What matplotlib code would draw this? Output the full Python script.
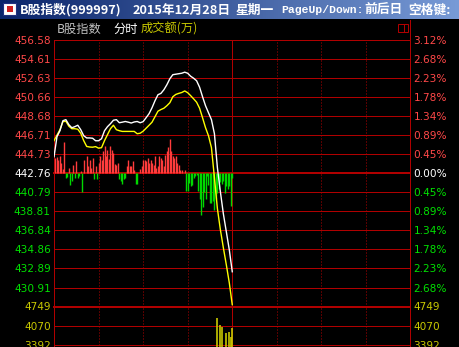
import numpy as np
import matplotlib
matplotlib.use("Agg")
import matplotlib.pyplot as plt
from matplotlib.patches import Rectangle

W, H = 460, 347

# 昨收 / 刻度
base = 442.76
price_labels = ["456.58", "454.61", "452.63", "450.66", "448.68", "446.71", "444.73",
                "442.76", "440.79", "438.81", "436.84", "434.86", "432.89", "430.91"]
pct_labels = ["3.12%", "2.68%", "2.23%", "1.78%", "1.34%", "0.89%", "0.45%",
              "0.00%", "0.45%", "0.89%", "1.34%", "1.78%", "2.23%", "2.68%"]
vol_labels = ["4749", "4070", "3392"]
vol_top = 4749

# 分时数据 (每2分钟读一次, 上午 0..120 分钟)
t_line = np.arange(0, 121, 2)
white_line = [444.49, 446.57, 447.19, 448.23, 448.34, 447.82, 447.50, 447.61, 447.76, 447.30,
              446.67, 446.44, 446.44, 446.41, 446.15, 446.15, 446.36, 447.19, 447.61, 447.92,
              448.28, 448.34, 448.02, 448.08, 448.15, 448.08, 447.99, 448.10, 448.15, 448.02,
              448.13, 448.54, 448.96, 449.58, 450.31, 450.93, 451.07, 451.45, 451.97, 452.59,
              453.01, 453.06, 453.11, 453.16, 453.27, 453.16, 452.85, 452.64, 452.38, 451.71,
              450.72, 449.79, 449.06, 448.34, 446.88, 443.35, 440.86, 438.58, 436.71, 434.84,
              432.55]
yellow_line = [446.16, 446.73, 447.30, 448.13, 448.18, 447.66, 447.40, 447.40, 447.35, 446.93,
               446.16, 445.56, 445.50, 445.48, 445.54, 445.38, 445.43, 446.16, 446.78, 447.40,
               447.76, 447.30, 447.19, 447.12, 447.12, 447.12, 447.12, 447.12, 446.88, 446.93,
               447.14, 447.45, 447.76, 448.08, 448.65, 449.22, 449.39, 449.53, 449.79, 450.10,
               450.72, 450.96, 451.07, 451.16, 451.32, 451.14, 450.83, 450.50, 450.15, 449.53,
               448.54, 447.51, 446.67, 445.43, 442.31, 439.10, 436.92, 435.05, 433.28, 431.41,
               429.13]

# 红绿柱 (相对昨收)
t_bar = np.arange(1, 121)
power = [1.56, 1.66, 1.35, 1.76, 1.04, 0.42, 3.22, -0.52, -0.42, 0.52,
         -1.25, -0.83, 0.83, -0.52, 1.25, -0.52, -0.31, 0.21, -1.97, 1.35,
         0.0, 1.76, 0.73, 1.35, 0.52, 1.56, -0.62, 0.73, -0.62, 1.04,
         1.76, 1.35, 2.28, 2.80, 1.76, 2.39, 1.45, 2.80, 2.39, 2.08,
         0.93, 0.83, 1.04, -0.62, -0.83, -1.14, -0.62, -0.52, 0.73, 1.35,
         0.73, 0.73, 1.25, 0.31, -1.14, -1.14, 0.0, 0.42, 0.73, 1.35,
         1.35, 1.25, 1.56, 1.04, 1.35, 1.04, 0.83, 1.76, 0.52, 0.73,
         1.76, 1.56, 1.35, 0.73, 1.87, 2.28, 2.70, 3.53, 2.28, 1.76,
         1.56, 1.76, 1.04, 0.83, 0.31, 0.31, 0.0, 0.31, -1.87, -1.87,
         -1.04, -1.35, -1.25, -0.52, -0.31, -0.21, -1.87, -2.70, -4.36, -3.53,
         -1.97, -2.70, -0.31, -1.25, -3.11, -3.11, -2.91, -3.84, -2.70, -2.08,
         -1.66, -0.93, -1.14, -0.83, -2.08, -1.35, -1.66, -1.35, -3.43, -0.52]

# 成交额 (只有尾盘几根露出来)
t_vol = [110, 112, 113, 116, 118, 119, 120]
volume = [4330, 4090, 4030, 3790, 3850, 3670, 3970]

grid = "#B00000"
red_txt = "#FF4848"
green_txt = "#00E000"
yel_txt = "#C8C800"
px = 0.72

fig = plt.figure(figsize=(W / 100, H / 100), dpi=100, facecolor="black")

L, R = 54, 410.5
TOP, MID, BOT = 40.3, 306.5, 439.5
ax = fig.add_axes([L / W, 1 - MID / H, (R - L) / W, (MID - TOP) / H])
axv = fig.add_axes([L / W, 1 - BOT / H, (R - L) / W, (BOT - MID) / H])

step = (float(price_labels[0]) - base) / 7
ax.set_ylim(base - 7 * step, base + 7 * step)
axv.set_ylim(0, vol_top)
for a in (ax, axv):
    a.set_facecolor("black")
    a.set_xlim(0, 240)
    a.set_xticks([])
    for s in a.spines.values():
        s.set_visible(False)
    for x in (30, 60, 90, 150, 180, 210):
        a.axvline(x, color=grid, lw=px, ls=(0, (1, 2)), zorder=1)
    a.axvline(120, color=grid, lw=px, zorder=1)
    a.axvline(0, color=grid, lw=px, zorder=1, clip_on=False)

price_ticks = [float(s) for s in price_labels]
for t in price_ticks:
    ax.axhline(t, color=grid, lw=2 * px if t == base else px, zorder=1, clip_on=False)
vol_ticks = [float(s) for s in vol_labels]
for t in vol_ticks:
    axv.axhline(t, color=grid, lw=2 * px if t == vol_top else px, zorder=1, clip_on=False)

# 红绿柱
cols = ["#FF3C3C" if v > 0 else "#00D800" for v in power]
ax.vlines(t_bar, base, base + np.array(power), colors=cols, lw=1.0, zorder=2)

# 价格线
ax.plot(t_line, white_line, color="white", lw=1.0, zorder=4)
ax.plot(t_line, yellow_line, color="#FFFF00", lw=1.0, zorder=3)

# 成交额柱
axv.vlines(t_vol, 0, volume, colors="#C8C800", lw=1.2, zorder=2)

# 刻度文字
def label_axis(a, ticks, labels, colors):
    a.set_yticks(ticks)
    a.set_yticklabels(labels)
    a.tick_params(axis="y", length=0, pad=2.3, labelsize=7.6)
    for lab, c in zip(a.get_yticklabels(), colors):
        lab.set_color(c)

pcols = [red_txt] * 7 + ["white"] + [green_txt] * 6
label_axis(ax, price_ticks, price_labels, pcols)
axr = ax.twinx()
axr.set_ylim(ax.get_ylim())
for s in axr.spines.values():
    s.set_visible(False)
label_axis(axr, price_ticks, pct_labels, pcols)
label_axis(axv, vol_ticks, vol_labels, [yel_txt] * 3)
axvr = axv.twinx()
axvr.set_ylim(axv.get_ylim())
for s in axvr.spines.values():
    s.set_visible(False)
label_axis(axvr, vol_ticks, vol_labels, [yel_txt] * 3)

# 标题栏与表头
ov = fig.add_axes([0, 0, 1, 1], zorder=10)
ov.set_xlim(0, W)
ov.set_ylim(H, 0)
ov.axis("off")
ov.patch.set_visible(False)
grad = np.linspace(0, 1, 256)
c0 = np.array([10, 36, 106]) / 255
c1 = np.array([120, 155, 215]) / 255
img = (c0[None, :] * (1 - grad[:, None]) + c1[None, :] * grad[:, None])[None, :, :]
ov.imshow(img, extent=(0, W, 19, 0), aspect="auto", zorder=1)
ov.add_patch(Rectangle((3, 3), 13, 12, facecolor="white", edgecolor="#203080", lw=0.8, zorder=2))
ov.add_patch(Rectangle((7, 6), 6, 6, facecolor="#D02020", edgecolor="none", zorder=3))

cjk = ["Noto Sans CJK SC", "DejaVu Sans"]
mono = ["Liberation Mono", "DejaVu Sans Mono"]
title_parts = [("B股指数(999997)", 20, cjk, 9.2), ("2015年12月28日", 133, cjk, 9.2),
               ("星期一", 236, cjk, 9.2), ("PageUp/Down:", 281, mono, 8.2),
               ("前后日", 364, cjk, 9.2), ("空格键:", 408, cjk, 9.2)]
for s, x, fam, fs in title_parts:
    ov.text(x, 10, s, color="white", fontsize=fs, fontweight="bold", family=fam,
            ha="left", va="center", zorder=4)

ov.text(57, 29, "B股指数", color="#C0C0C0", fontsize=8.8, family=cjk, ha="left", va="center")
ov.text(113, 29, "分时", color="white", fontsize=8.8, family=cjk, ha="left", va="center")
ov.text(141, 29, "成交额(万)", color=yel_txt, fontsize=8.8, family=cjk, ha="left", va="center")

ov.plot([410.5, 410.5], [20, H], color=grid, lw=px)
ov.add_patch(Rectangle((398.5, 23.5), 9.5, 8.5, facecolor="none", edgecolor=grid, lw=px))
ov.plot([404, 404], [23.5, 32], color=grid, lw=px)

fig.savefig("out.png", dpi=100, facecolor="black")
